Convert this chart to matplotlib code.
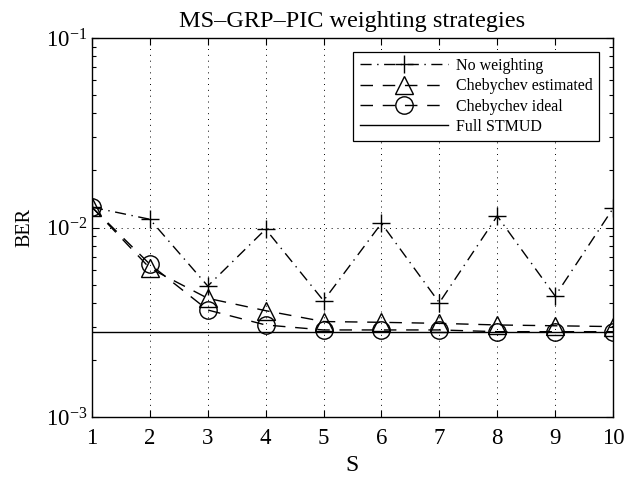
import matplotlib
matplotlib.use("Agg")
import matplotlib.pyplot as plt
from matplotlib.ticker import LogLocator, FixedLocator, NullFormatter

plt.rcParams['font.family'] = ['Liberation Serif', 'DejaVu Serif']
plt.rcParams['mathtext.fontset'] = 'stix'

S = [1, 2, 3, 4, 5, 6, 7, 8, 9, 10]
ber_no_weighting = [0.0128, 0.01105, 0.00491, 0.0098, 0.00411, 0.01052, 0.00401, 0.0115, 0.00435, 0.0126]
ber_cheb_est = [0.0128, 0.0061, 0.00423, 0.00364, 0.00319, 0.00316, 0.00312, 0.00306, 0.00303, 0.00300]
ber_cheb_ideal = [0.0128, 0.0064, 0.00367, 0.00306, 0.00288, 0.00288, 0.00288, 0.00282, 0.00282, 0.00282]
ber_full_stmud = 0.00282

fig = plt.figure(figsize=(6.27, 4.78), dpi=100)
ax = fig.add_axes([0.1467, 0.1276, 0.9777 - 0.1467, 0.9205 - 0.1276])

ms = 12.5
ax.plot(S, ber_no_weighting, linestyle=(0, (8, 4, 1, 4)), color='black', lw=1.0,
        marker='+', markersize=ms + 0.5, markeredgewidth=1.0, label='No weighting')
ax.plot(S, ber_cheb_est, linestyle=(0, (9, 7)), color='black', lw=1.0,
        marker='^', markersize=ms, markerfacecolor='none', markeredgewidth=1.0,
        label='Chebychev estimated')
ax.plot(S, ber_cheb_ideal, linestyle=(0, (9, 7)), color='black', lw=1.0,
        marker='o', markersize=ms, markerfacecolor='none', markeredgewidth=1.0,
        label='Chebychev ideal')
ax.axhline(ber_full_stmud, color='black', lw=1.0, label='Full STMUD')

ax.set_yscale('log')
ax.set_xlim(1, 10)
ax.set_ylim(1e-3, 1e-1)
ax.xaxis.set_major_locator(FixedLocator(S))
ax.yaxis.set_major_locator(LogLocator(base=10, numticks=10))
ax.yaxis.set_minor_locator(LogLocator(base=10, subs=range(2, 10), numticks=20))
ax.yaxis.set_minor_formatter(NullFormatter())

ax.tick_params(which='both', direction='in', top=True, right=True, labelsize=16.5)
ax.tick_params(which='major', length=5, width=0.8)
ax.tick_params(which='minor', length=3, width=0.8)
ax.tick_params(axis='x', pad=8)

ax.grid(True, which='major', linestyle=(0, (1, 5)), color='black', lw=0.7)
for sp in ax.spines.values():
    sp.set_linewidth(1.0)

ax.set_title('MS–GRP–PIC weighting strategies', fontsize=17.5, pad=8)
ax.set_xlabel('S', fontsize=17, labelpad=4)
ax.set_ylabel('BER', fontsize=14.5, labelpad=8)

leg = ax.legend(loc='upper right', fontsize=11.5, frameon=True, fancybox=False,
                edgecolor='black', framealpha=1, handlelength=5.5,
                borderaxespad=0.85, labelspacing=0.27, handletextpad=0.55,
                borderpad=0.4)
leg.get_frame().set_linewidth(0.9)

fig.savefig('out.png', dpi=100)
